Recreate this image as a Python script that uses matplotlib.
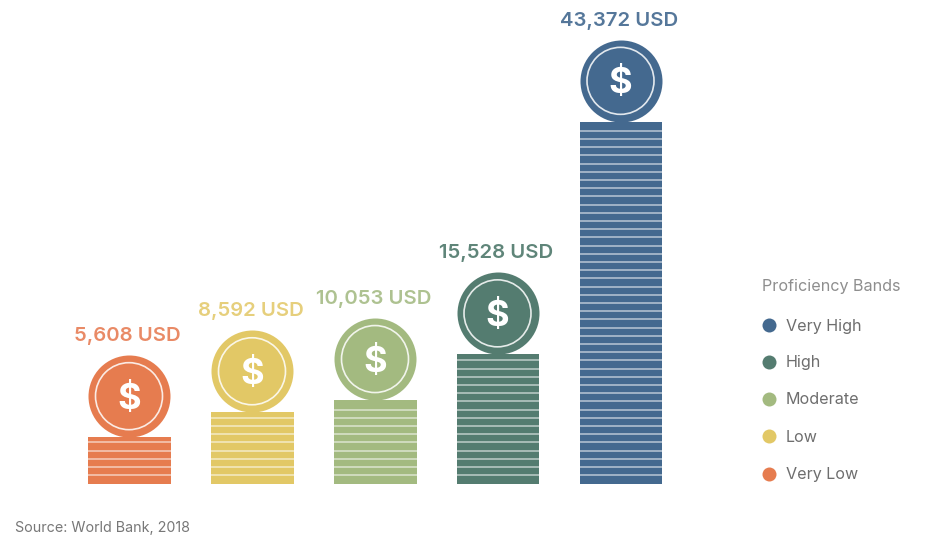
import matplotlib
matplotlib.use("Agg")
import matplotlib.pyplot as plt
import numpy as np

plt.rcParams['font.family'] = ['Inter', 'DejaVu Sans']

bands = ["Very Low", "Low", "Moderate", "High", "Very High"]
gni = [5608, 8592, 10053, 15528, 43372]
value_labels = ["5,608 USD", "8,592 USD", "10,053 USD", "15,528 USD", "43,372 USD"]
colors = ["#E67C4F", "#E2C866", "#A3BA80", "#547C70", "#44698F"]
label_colors = ["#E98A66", "#E6CF7C", "#AEC291", "#5F8579", "#55779A"]
legend_title = "Proficiency Bands"
source = "Source: World Bank, 2018"

W, H = 935, 540
BASE = 484            # pixel row of the zero line
K = 0.00835           # pixels per USD
px = 1 / K            # USD per pixel

fig = plt.figure(figsize=(W / 100, H / 100), dpi=100, facecolor="white")
ax = fig.add_axes([0, 0, 1, 1])
ax.set_xlim(0, W)
ax.set_ylim(-(H - BASE) * px, BASE * px)
ax.axis("off")

xpos = [129.5, 252.5, 375.5, 498, 621]
bar_w = 82.5
coin_d = 82 * 0.72
ring_d = 67 * 0.72
gap = 8.2

for x, v, lab, c, lc in zip(xpos, gni, value_labels, colors, label_colors):
    ax.bar(x, v, width=bar_w, color=c, linewidth=0, zorder=2)
    n = int((v * K - 3) // gap)
    stripes = [(i + 1) * gap * px + 0.7 * px for i in range(n)]
    ax.hlines(stripes, x - bar_w / 2, x + bar_w / 2, color="white", alpha=0.55,
              linewidth=1.25, zorder=3)
    cy = v + 41 * px
    ax.scatter([x - 0.5], [cy], s=coin_d ** 2, color=c, linewidth=0, zorder=4)
    ax.scatter([x - 0.5], [cy], s=ring_d ** 2, facecolor="none", edgecolor="white",
               alpha=0.85, linewidth=1.2, zorder=5)
    ax.text(x - 0.5, cy + 0.5 * px, "$", color="white", fontsize=26, fontweight="bold",
            ha="center", va="center_baseline", zorder=6)
    ax.text(x - 2, v + 101 * px, lab, color=lc, fontsize=14.6, fontweight="semibold",
            ha="center", va="center", zorder=6)

# legend
ax.text(762, (BASE - 286) * px, legend_title, color="#8E8E8E", fontsize=11.6,
        ha="left", va="center")
leg_y = [325, 362, 399, 436, 474]
for yy, name, c in zip(leg_y, bands[::-1], colors[::-1]):
    ax.scatter([768.5], [(BASE - yy) * px], s=(14 * 0.72) ** 2, color=c, linewidth=0)
    ax.text(786, (BASE - yy - 1) * px, name, color="#6E6E6E", fontsize=11.6,
            ha="left", va="center")

ax.text(15, (BASE - 528) * px, source, color="#777777", fontsize=10.3,
        ha="left", va="center")

fig.savefig("out.png", dpi=100, facecolor="white")
